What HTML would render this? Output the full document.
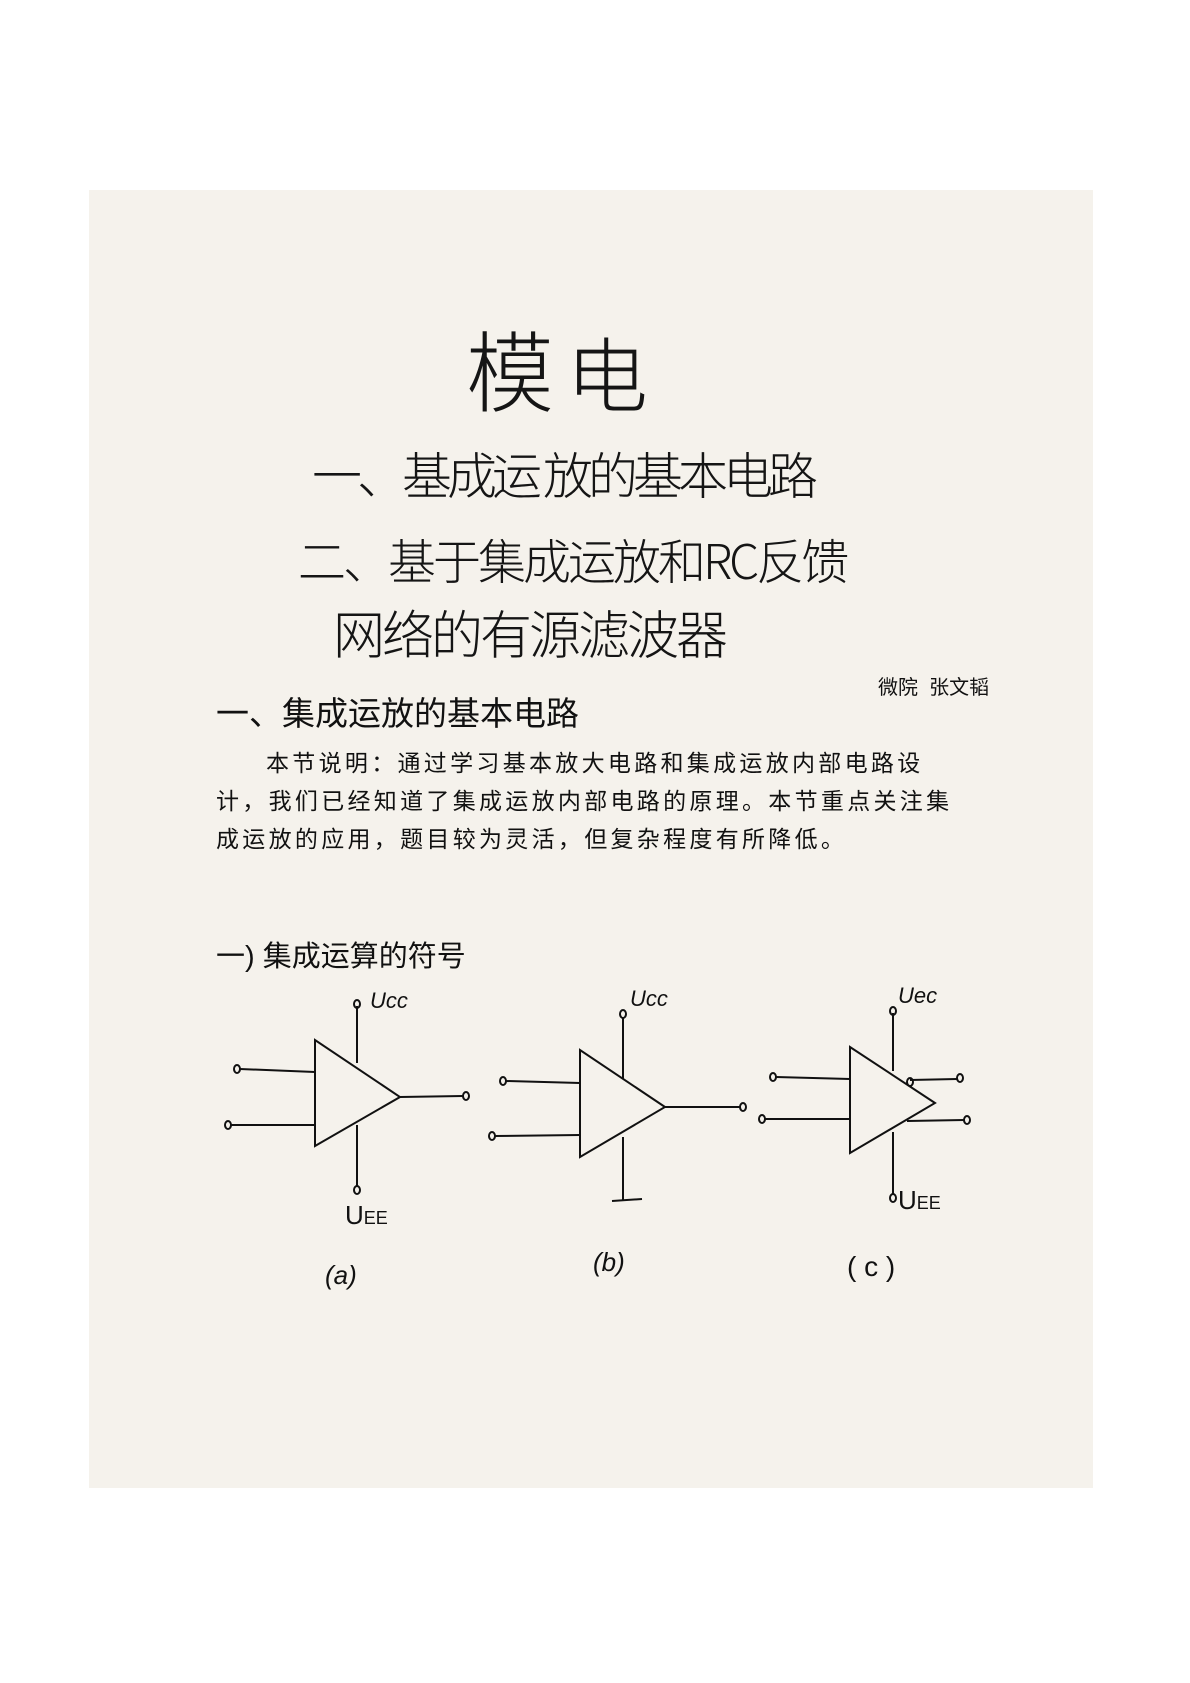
<!DOCTYPE html>
<html><head><meta charset="utf-8"><style>
body{margin:0;width:1190px;height:1683px;background:#fff;position:relative;overflow:hidden;font-family:"Liberation Sans","Noto Sans CJK SC",sans-serif;color:#111}
.paper{position:absolute;left:89px;top:190px;width:1004px;height:1298px;background:#f5f2ec}
.t{position:absolute;white-space:nowrap;line-height:1}
.h{font-family:"Noto Sans CJK SC",sans-serif;font-weight:300;color:#151515}
</style></head><body>
<div class="paper"></div>
<div class="t h" style="left:466px;top:324px;font-size:88px">模</div>
<div class="t h" style="left:566px;top:330px;font-size:82px">电</div>
<div class="t h" style="left:312px;top:448px;font-size:50px;letter-spacing:-5px">一、基成运 放的基本电路</div>
<div class="t h" style="left:298px;top:534px;font-size:48px;letter-spacing:-3px">二、基于集成运放和RC反馈</div>
<div class="t h" style="left:333px;top:606px;font-size:52px;letter-spacing:-3px">网络的有源滤波器</div>
<div class="t" style="left:878px;top:678px;font-size:20px">微院&nbsp; 张文韬</div>
<div class="t" style="left:216px;top:697px;font-size:33px">一、集成运放的基本电路</div>
<div class="t" style="left:266px;top:752px;font-size:23px;letter-spacing:3.3px">本节说明：通过学习基本放大电路和集成运放内部电路设</div>
<div class="t" style="left:216px;top:790px;font-size:23px;letter-spacing:3.3px">计，我们已经知道了集成运放内部电路的原理。本节重点关注集</div>
<div class="t" style="left:216px;top:828px;font-size:23px;letter-spacing:3.3px">成运放的应用，题目较为灵活，但复杂程度有所降低。</div>
<div class="t" style="left:216px;top:943px;font-size:29px">一) 集成运算的符号</div>
<svg width="1190" height="1683" style="position:absolute;left:0;top:0" fill="none" stroke="#111" stroke-width="2">
<!-- a -->
<polygon points="315,1040 315,1146 400,1097"/>
<line x1="357" y1="1006" x2="357" y2="1063"/><line x1="357" y1="1125" x2="357" y2="1187"/>
<ellipse cx="357" cy="1004" rx="3" ry="4"/><ellipse cx="357" cy="1190" rx="3" ry="4"/>
<line x1="240" y1="1069" x2="315" y2="1072"/><ellipse cx="237" cy="1069" rx="3" ry="4"/>
<line x1="231" y1="1125" x2="315" y2="1125"/><ellipse cx="228" cy="1125" rx="3" ry="4"/>
<line x1="400" y1="1097" x2="463" y2="1096"/><ellipse cx="466" cy="1096" rx="3" ry="4"/>
<!-- b -->
<polygon points="580,1050 580,1157 665,1107"/>
<line x1="623" y1="1017" x2="623" y2="1079"/><line x1="623" y1="1137" x2="623" y2="1200"/>
<line x1="612" y1="1201" x2="642" y2="1199"/>
<ellipse cx="623" cy="1014" rx="3" ry="4"/>
<line x1="506" y1="1081" x2="580" y2="1083"/><ellipse cx="503" cy="1081" rx="3" ry="4"/>
<line x1="495" y1="1136" x2="580" y2="1135"/><ellipse cx="492" cy="1136" rx="3" ry="4"/>
<line x1="665" y1="1107" x2="740" y2="1107"/><ellipse cx="743" cy="1107" rx="3" ry="4"/>
<!-- c -->
<polygon points="850,1047 850,1153 935,1103"/>
<line x1="893" y1="1013" x2="893" y2="1071"/><line x1="893" y1="1132" x2="893" y2="1195"/>
<ellipse cx="893" cy="1011" rx="3" ry="4"/><ellipse cx="893" cy="1198" rx="3" ry="4"/>
<line x1="776" y1="1077" x2="850" y2="1079"/><ellipse cx="773" cy="1077" rx="3" ry="4"/>
<line x1="765" y1="1119" x2="850" y2="1119"/><ellipse cx="762" cy="1119" rx="3" ry="4"/>
<line x1="910" y1="1080" x2="957" y2="1079"/><ellipse cx="960" cy="1078" rx="3" ry="4"/><ellipse cx="910" cy="1082" rx="3" ry="4"/>
<line x1="907" y1="1121" x2="964" y2="1120"/><ellipse cx="967" cy="1120" rx="3" ry="4"/>
</svg>
<div class="t" style="left:370px;top:990px;font-size:22px;font-style:italic">Ucc</div>
<div class="t" style="left:345px;top:1202px;font-size:26px">U<span style="font-size:18px">EE</span></div>
<div class="t" style="left:325px;top:1262px;font-size:26px;font-style:italic">(a)</div>
<div class="t" style="left:630px;top:988px;font-size:22px;font-style:italic">Ucc</div>
<div class="t" style="left:593px;top:1249px;font-size:26px;font-style:italic">(b)</div>
<div class="t" style="left:898px;top:985px;font-size:22px;font-style:italic">Uec</div>
<div class="t" style="left:898px;top:1187px;font-size:26px">U<span style="font-size:18px">EE</span></div>
<div class="t" style="left:847px;top:1253px;font-size:28px">( c )</div>
</body></html>
